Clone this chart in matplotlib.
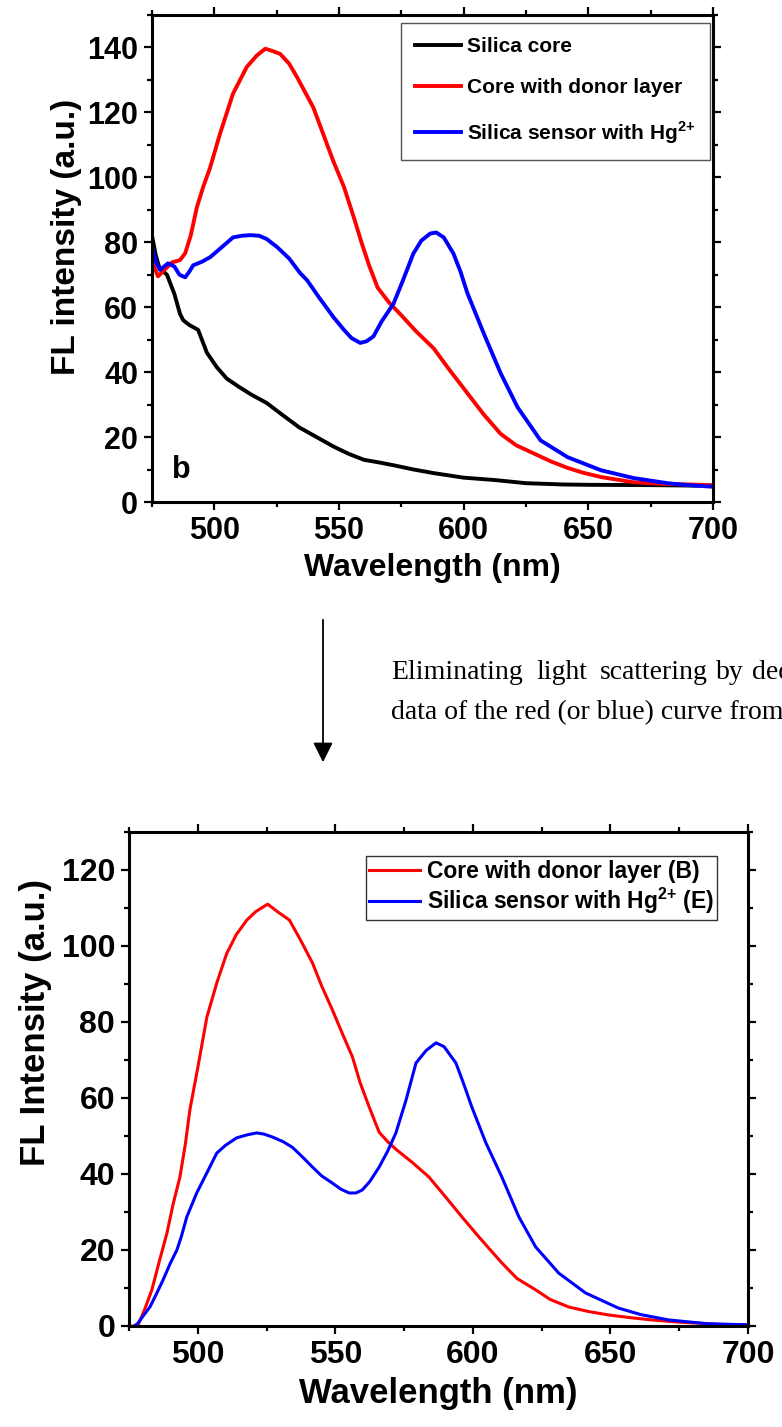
import matplotlib
matplotlib.use("Agg")
import numpy as np
import matplotlib.pyplot as plt
from matplotlib.ticker import MultipleLocator

plt.rcParams["font.family"] = ["Liberation Sans", "DejaVu Sans"]
plt.rcParams["font.weight"] = "bold"
plt.rcParams["mathtext.fontset"] = "custom"
plt.rcParams["mathtext.rm"] = "Liberation Sans:bold"
plt.rcParams["mathtext.bf"] = "Liberation Sans:bold"

# ---- top panel: raw spectra ----
core_wl = [475, 476.5, 478, 481, 484, 486.2, 487.5, 490, 493.5, 497, 501, 505, 510, 515,
           521, 527, 534, 541, 548, 554, 560, 566, 572, 580, 588, 600, 612, 625, 640, 650,
           675, 700]
core_fl = [82, 76, 72, 70, 64, 58, 56, 54.5, 53, 46, 41.5, 38, 35.4, 33,
           30.5, 27, 23, 20, 17, 14.8, 13, 12.2, 11.3, 10, 8.9, 7.5, 6.8, 5.8, 5.4, 5.3,
           5.2, 5.0]

donor_wl = [475, 477.4, 480, 483, 486.2, 488.3, 490.5, 493, 495.5, 498.3, 502.3, 507.5, 513,
            517, 520.4, 523, 526.4, 530, 533.2, 539.7, 547.7, 552, 556, 559, 562, 565.5,
            570, 575, 581, 588, 594, 601.5, 608, 614.8, 621, 628, 635, 641.7, 648, 655,
            668, 680, 690, 700]
donor_fl = [74, 69.5, 71.5, 73.8, 74.5, 76.6, 82, 90.8, 97, 103, 113.5, 125.8, 134,
            137.5, 139.6, 139, 138, 135, 130.8, 121.5, 105, 97, 87.5, 80, 73, 66,
            61.5, 57.5, 52.5, 47.3, 41, 33.5, 27, 21, 17.5, 15, 12.5, 10.5, 9, 7.7,
            6.1, 5.6, 5.4, 5.2]

sensor_wl = [475, 476.5, 478.2, 481.4, 484, 486, 488.3, 490, 491.5, 495, 498.3, 503, 507.5,
             511, 514.4, 518, 521, 525.2, 530, 534.4, 537.2, 542, 547.7, 552, 555, 558.5,
             561, 563.8, 567, 571.8, 575.5, 579.8, 583, 586.6, 589, 592, 595.9, 598.7,
             601.5, 608, 614.8, 621.6, 630.8, 641.7, 655, 668, 681.8, 690, 700]
sensor_fl = [78.5, 74, 71.5, 73.5, 72.5, 70, 69.2, 71, 72.9, 74, 75.4, 78.5, 81.5,
             82, 82.2, 82, 81, 78.5, 75, 70.5, 68.3, 63, 57, 53, 50.5, 49,
             49.5, 51, 55.5, 61, 68, 76.5, 80.5, 82.7, 83, 81.5, 76.5, 71,
             64.3, 52, 39.7, 29.2, 19, 13.8, 9.8, 7.4, 5.8, 5.2, 4.7]

# ---- bottom panel: scattering-corrected spectra ----
donor_c_wl = [476.5, 478.3, 480.5, 483.3, 486, 488.8, 491, 493.5, 495.5, 497.1, 500, 503.3,
              507, 510.5, 514, 517.8, 521, 525.4, 529, 533.3, 537, 541.7, 545, 548.9,
              552.5, 556.2, 559, 562.3, 565.9, 569, 572, 578, 584, 590, 596, 602.2, 610.5,
              616, 622.8, 628, 634.8, 642, 649.3, 657, 664.9, 675, 683, 690, 700]
donor_c_fl = [0, 0.3, 4, 9.5, 17, 24.5, 32, 39.2, 48, 56.8, 68, 81.3,
              90.5, 98, 103, 106.8, 109, 111, 109, 106.8, 102, 95.5, 89.5, 83.2,
              77, 70.8, 64, 57.6, 51, 48.5, 46.5, 43, 39.2, 34, 28.7, 23.4, 16.6,
              12.5, 9.5, 7, 5, 3.8, 2.9, 2.2, 1.6, 1, 0.7, 0.4, 0.3]

sensor_c_wl = [477, 478.3, 480.5, 482.6, 485, 487.3, 490, 492.4, 494, 496, 499.6, 503.3,
               506.9, 510, 514.1, 518, 521.4, 524, 527.2, 531, 534.4, 538, 541.7, 545,
               548.9, 552, 555, 557.5, 559.8, 562.5, 565.9, 569, 572, 575.7, 579.3, 583,
               586.6, 589.5, 593.8, 596.5, 599.6, 604.7, 610.5, 616.7, 622.8, 631.2,
               640.9, 652.9, 661, 671, 685, 700]
sensor_c_fl = [0, 0.8, 3, 5, 8.5, 12, 16.5, 20, 23.5, 28.7, 35, 40.3,
               45.5, 47.5, 49.5, 50.3, 50.8, 50.5, 49.7, 48.5, 47, 44.5, 41.8, 39.5,
               37.6, 36, 35, 35, 35.8, 38, 41.8, 46, 50.8, 59.5, 69.2, 72.5,
               74.5, 73.5, 69.2, 64, 57.6, 48.2, 39.2, 28.7, 20.8, 13.9,
               8.7, 4.7, 3, 1.6, 0.6, 0.3]

HG = r"Hg$^{\text{2+}}$"


def style_axes(ax, ymax, ymajor, tick_size):
    ax.set_xlim(475, 700)
    ax.set_ylim(0, ymax)
    ax.xaxis.set_major_locator(MultipleLocator(50))
    ax.xaxis.set_minor_locator(MultipleLocator(25))
    ax.yaxis.set_major_locator(MultipleLocator(ymajor))
    ax.yaxis.set_minor_locator(MultipleLocator(ymajor / 2))
    ax.tick_params(which="both", direction="out", top=True, right=True, width=1.6,
                   labelsize=tick_size, pad=4)
    ax.tick_params(which="major", length=6)
    ax.tick_params(which="minor", length=3.5)
    for s in ax.spines.values():
        s.set_linewidth(2.2)
    for lab in ax.get_xticklabels() + ax.get_yticklabels():
        lab.set_fontweight("bold")


fig = plt.figure(figsize=(7.82, 14.27), dpi=100)

# top
ax1 = fig.add_axes([0.1944, 0.6482, 0.7174, 0.3413])
ax1.plot(core_wl, core_fl, color="black", lw=2.8, label="Silica core")
ax1.plot(donor_wl, donor_fl, color="#FF0000", lw=2.8, label="Core with donor layer")
ax1.plot(sensor_wl, sensor_fl, color="#0000FF", lw=2.8,
         label="Silica sensor with " + HG)
style_axes(ax1, 150, 20, 22)
ax1.set_xlabel("Wavelength (nm)", fontsize=23, fontweight="bold", labelpad=5)
ax1.set_ylabel("FL intensity (a.u.)", fontsize=24, fontweight="bold")
ax1.yaxis.set_label_coords(-0.125, 0.544)
ax1.text(0.052, 0.066, "b", transform=ax1.transAxes, fontsize=22, fontweight="bold",
         ha="center", va="center")
leg1 = ax1.legend(loc="upper right", bbox_to_anchor=(0.995, 0.984), fontsize=15,
                  handlelength=2.2, handletextpad=0.3, labelspacing=1.05,
                  borderpad=0.7, fancybox=False, framealpha=1, borderaxespad=0)
leg1.get_frame().set_edgecolor("#555555")
leg1.get_frame().set_linewidth(1.0)
for t in leg1.get_texts():
    t.set_fontweight("bold")

# middle annotation
fig.add_artist(matplotlib.patches.FancyArrowPatch(
    (323 / 782, 1 - 617 / 1427), (323 / 782, 1 - 765 / 1427),
    transform=fig.transFigure, arrowstyle="-|>", mutation_scale=30,
    lw=1.3, color="black"))
serif = dict(family="Liberation Serif", fontsize=20, fontweight="normal", va="baseline")
line1_words = ["Eliminating", "light", "scattering", "by", "deducting"]
line1_x = [391, 536, 600, 716, 752]
for w, xp in zip(line1_words, line1_x):
    fig.text(xp / 782, 1 - 679 / 1427, w, **serif)
fig.text(391 / 782, 1 - 719 / 1427, "data of the red (or blue) curve from the", **serif)

# bottom
ax2 = fig.add_axes([0.165, 0.0708, 0.7916, 0.3462])
ax2.plot(donor_c_wl, donor_c_fl, color="#FF0000", lw=2.2, label="Core with donor layer (B)")
ax2.plot(sensor_c_wl, sensor_c_fl, color="#0000FF", lw=2.2,
         label="Silica sensor with " + HG + " (E)")
style_axes(ax2, 130, 20, 23)
ax2.set_xlabel("Wavelength (nm)", fontsize=25, fontweight="bold", labelpad=5)
ax2.set_ylabel("FL Intensity (a.u.)", fontsize=25, fontweight="bold")
ax2.yaxis.set_label_coords(-0.125, 0.615)
leg2 = ax2.legend(loc="upper right", bbox_to_anchor=(0.95, 0.951), fontsize=16.5,
                  handlelength=2.2, handletextpad=0.3, labelspacing=0.15,
                  borderpad=0.15, borderaxespad=0, fancybox=False, framealpha=1)
leg2.get_frame().set_edgecolor("#333333")
leg2.get_frame().set_linewidth(1.0)
for t in leg2.get_texts():
    t.set_fontweight("bold")

fig.savefig("out.png", dpi=100)
